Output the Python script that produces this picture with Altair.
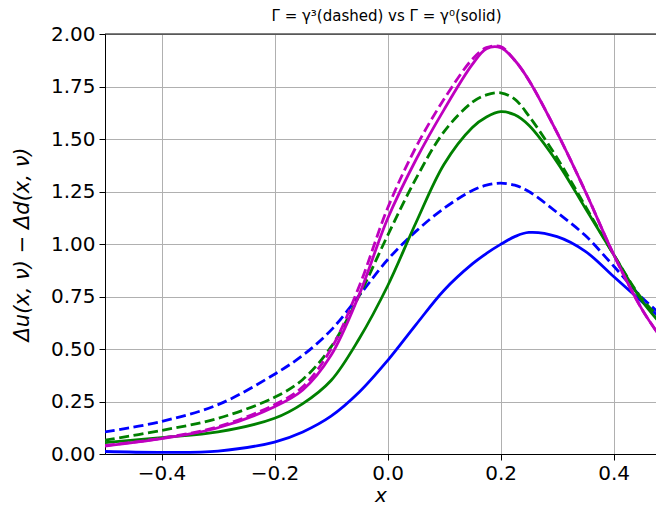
import altair as alt
import pandas as pd

# x positions (shared by all series)
x_vals = [-0.5, -0.4, -0.3, -0.2, -0.15, -0.1, -0.05, 0.0, 0.05, 0.1, 0.15, 0.175, 0.2, 0.225, 0.25, 0.3, 0.35, 0.4, 0.45, 0.49]

# Gamma = gamma^0 (solid)
blue_solid    = [0.012, 0.008, 0.014, 0.057, 0.105, 0.18, 0.295, 0.445, 0.615, 0.78, 0.905, 0.955, 0.998, 1.035, 1.055, 1.035, 0.965, 0.845, 0.725, 0.63]
green_solid   = [0.054, 0.078, 0.105, 0.17, 0.24, 0.35, 0.55, 0.80, 1.10, 1.38, 1.555, 1.605, 1.63, 1.615, 1.565, 1.39, 1.17, 0.95, 0.73, 0.60]
magenta_solid = [0.038, 0.073, 0.125, 0.225, 0.305, 0.47, 0.76, 1.12, 1.40, 1.64, 1.855, 1.93, 1.935, 1.875, 1.78, 1.53, 1.25, 0.95, 0.69, 0.53]

# Gamma = gamma^3 (dashed)
blue_dashed    = [0.105, 0.155, 0.235, 0.38, 0.47, 0.59, 0.755, 0.925, 1.06, 1.17, 1.255, 1.28, 1.29, 1.28, 1.25, 1.15, 1.04, 0.895, 0.745, 0.65]
green_dashed   = [0.066, 0.112, 0.17, 0.27, 0.355, 0.51, 0.755, 1.04, 1.31, 1.535, 1.675, 1.71, 1.72, 1.69, 1.61, 1.41, 1.18, 0.95, 0.74, 0.625]
magenta_dashed = [0.040, 0.075, 0.13, 0.235, 0.32, 0.50, 0.80, 1.17, 1.46, 1.69, 1.88, 1.935, 1.94, 1.875, 1.78, 1.53, 1.25, 0.95, 0.69, 0.53]

x_ticks = [-0.4, -0.2, 0.0, 0.2, 0.4]
y_ticks = [0.0, 0.25, 0.5, 0.75, 1.0, 1.25, 1.5, 1.75, 2.0]

series = [
    ("blue_solid", blue_solid, "#0000ff", False),
    ("blue_dashed", blue_dashed, "#0000ff", True),
    ("green_solid", green_solid, "#008000", False),
    ("green_dashed", green_dashed, "#008000", True),
    ("magenta_solid", magenta_solid, "#bf00bf", False),
    ("magenta_dashed", magenta_dashed, "#bf00bf", True),
]

x_scale = alt.Scale(domain=[-0.5, 0.475], nice=False, zero=False)
y_scale = alt.Scale(domain=[0, 2.0], nice=False, zero=False)

x_axis = alt.Axis(values=x_ticks, format=".1f", title="x", titleFontStyle="italic",
                  titleFontWeight="normal", titleFontSize=20, titleY=47,
                  titleBaseline="alphabetic",
                  labelFontSize=20, tickSize=6, labelPadding=3, grid=True,
                  gridColor="#b0b0b0", gridWidth=1, domainColor="#000000",
                  tickColor="#000000", labelColor="#000000", titleColor="#000000",
                  labelFont="DejaVu Sans", titleFont="DejaVu Sans", labelFlush=False)
y_axis = alt.Axis(values=y_ticks, format=".2f", title="Δu(x, ν) − Δd(x, ν)",
                  titleFontStyle="italic", titleFontWeight="normal", titleFontSize=21,
                  titlePadding=18, labelFontSize=20, tickSize=6, labelPadding=4,
                  grid=True, gridColor="#b0b0b0", gridWidth=1, domainColor="#000000",
                  tickColor="#000000", labelColor="#000000", titleColor="#000000",
                  labelFont="DejaVu Sans", titleFont="DejaVu Sans", labelFlush=False)

layers = []
for name, ys, color, dashed in series:
    df = pd.DataFrame({"x": x_vals, "y": ys})
    mk = dict(color=color, strokeWidth=2.8, interpolate="catmull-rom", clip=True)
    if dashed:
        mk["strokeDash"] = [10, 4.5]
    layers.append(alt.Chart(df).mark_line(**mk).encode(
        x=alt.X("x:Q", scale=x_scale, axis=x_axis),
        y=alt.Y("y:Q", scale=y_scale, axis=y_axis),
    ))

top_spine = alt.Chart(pd.DataFrame({"y": [2.0]})).mark_rule(color="#000000", strokeWidth=1).encode(
    y=alt.Y("y:Q", scale=y_scale, axis=y_axis)
)

chart = alt.layer(*layers, top_spine).properties(
    width=551,
    height=420,
    title=alt.TitleParams(text="Γ = γ³(dashed) vs Γ = γ⁰(solid)", fontSize=15,
                          font="DejaVu Sans", fontWeight="normal", color="#000000",
                          anchor="middle", offset=0, dx=6),
    autosize=alt.AutoSizeParams(type="none"),
    padding={"left": 97, "top": 26, "right": 0, "bottom": 52},
).configure_view(stroke=None).configure(background="white")

chart.save("out.html", embed_options={"renderer": "svg", "actions": False})
